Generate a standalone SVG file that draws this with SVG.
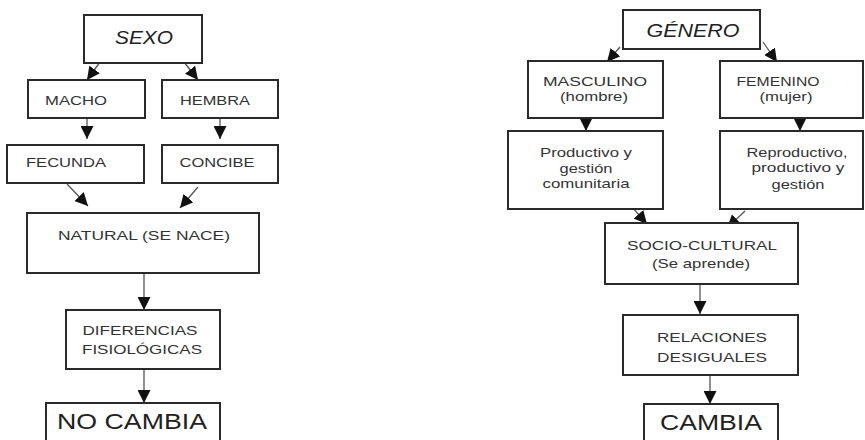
<svg xmlns="http://www.w3.org/2000/svg" width="865" height="440" viewBox="0 0 865 440">
<style>
.box{fill:#fff;stroke:#2a2a2a;stroke-width:2}
.t{font-family:"Liberation Sans",Arial,sans-serif;font-size:13.5px;fill:#333;text-anchor:middle}
.ti{font-style:italic;font-size:19px;fill:#222}
.big{font-size:22px;fill:#222}
.c line{stroke:#555;stroke-width:1.3;marker-end:url(#ah)}
</style>
<defs>
<marker id="ah" markerUnits="userSpaceOnUse" markerWidth="13" markerHeight="13" refX="13" refY="6.5" orient="auto">
<path d="M0,0 L13,6.5 L0,13 z" fill="#111"/>
</marker>
</defs>
<rect width="865" height="440" fill="#fff"/>
<g class="c">
<line x1="100" y1="62" x2="87" y2="80"/>
<line x1="184" y1="62" x2="198" y2="80"/>
<line x1="87" y1="118" x2="87" y2="139"/>
<line x1="220" y1="118" x2="220" y2="139"/>
<line x1="67" y1="184" x2="88" y2="206"/>
<line x1="198" y1="187" x2="180" y2="208"/>
<line x1="144" y1="273" x2="144" y2="310"/>
<line x1="144" y1="369" x2="144" y2="403"/>
<line x1="620" y1="47" x2="607" y2="62"/>
<line x1="763" y1="42" x2="777" y2="62"/>
<line x1="586" y1="118" x2="586" y2="131"/>
<line x1="800" y1="118" x2="800" y2="131"/>
<line x1="632" y1="207" x2="647" y2="224"/>
<line x1="745" y1="211" x2="727" y2="228"/>
<line x1="700" y1="284" x2="700" y2="314"/>
<line x1="710" y1="375" x2="710" y2="404"/>
</g>
<g id="sexo"><rect class="box" x="84" y="15" width="118" height="48"/><text class="t ti" x="144" y="44" textLength="58" lengthAdjust="spacingAndGlyphs">SEXO</text></g>
<g id="macho"><rect class="box" x="28" y="80" width="117" height="38"/><text class="t" x="76" y="105" textLength="62" lengthAdjust="spacingAndGlyphs">MACHO</text></g>
<g id="hembra"><rect class="box" x="162" y="80" width="116" height="38"/><text class="t" x="215" y="105" textLength="70" lengthAdjust="spacingAndGlyphs">HEMBRA</text></g>
<g id="fecunda"><rect class="box" x="7" y="145" width="137" height="38"/><text class="t" x="66" y="167" textLength="80" lengthAdjust="spacingAndGlyphs">FECUNDA</text></g>
<g id="concibe"><rect class="box" x="162" y="145" width="116" height="38"/><text class="t" x="217" y="167" textLength="75" lengthAdjust="spacingAndGlyphs">CONCIBE</text></g>
<g id="natural"><rect class="box" x="27" y="213" width="232" height="60"/><text class="t" x="144" y="240" textLength="172" lengthAdjust="spacingAndGlyphs">NATURAL (SE NACE)</text></g>
<g id="diferencias"><rect class="box" x="66" y="310" width="154" height="59"/><text class="t" x="140" y="335" textLength="115" lengthAdjust="spacingAndGlyphs">DIFERENCIAS</text><text class="t" x="142" y="354" textLength="120" lengthAdjust="spacingAndGlyphs">FISIOLÓGICAS</text></g>
<g id="nocambia"><rect class="box" x="46" y="403" width="174" height="45"/><text class="t big" x="132" y="429" textLength="150" lengthAdjust="spacingAndGlyphs">NO CAMBIA</text></g>
<g id="genero"><rect class="box" x="623" y="10" width="137" height="39"/><text class="t ti" x="693" y="37" textLength="93" lengthAdjust="spacingAndGlyphs">GÉNERO</text></g>
<g id="masculino"><rect class="box" x="528" y="61" width="135" height="57"/><text class="t" x="595" y="86" textLength="104" lengthAdjust="spacingAndGlyphs">MASCULINO</text><text class="t" x="594" y="101" textLength="68" lengthAdjust="spacingAndGlyphs">(hombre)</text></g>
<g id="femenino"><rect class="box" x="720" y="61" width="143" height="57"/><text class="t" x="778" y="86" textLength="83" lengthAdjust="spacingAndGlyphs">FEMENINO</text><text class="t" x="786" y="101" textLength="53" lengthAdjust="spacingAndGlyphs">(mujer)</text></g>
<g id="productivo"><rect class="box" x="508" y="131" width="155" height="78"/><text class="t" x="586" y="157" textLength="92" lengthAdjust="spacingAndGlyphs">Productivo y</text><text class="t" x="586" y="173" textLength="53" lengthAdjust="spacingAndGlyphs">gestión</text><text class="t" x="586" y="188" textLength="87" lengthAdjust="spacingAndGlyphs">comunitaria</text></g>
<g id="reproductivo"><rect class="box" x="720" y="131" width="143" height="78"/><text class="t" x="797" y="157" textLength="101" lengthAdjust="spacingAndGlyphs">Reproductivo,</text><text class="t" x="798" y="172" textLength="93" lengthAdjust="spacingAndGlyphs">productivo y</text><text class="t" x="798" y="189" textLength="53" lengthAdjust="spacingAndGlyphs">gestión</text></g>
<g id="sociocultural"><rect class="box" x="605" y="223" width="193" height="61"/><text class="t" x="702" y="250" textLength="150" lengthAdjust="spacingAndGlyphs">SOCIO-CULTURAL</text><text class="t" x="701" y="268" textLength="98" lengthAdjust="spacingAndGlyphs">(Se aprende)</text></g>
<g id="relaciones"><rect class="box" x="623" y="315" width="175" height="60"/><text class="t" x="712" y="342" textLength="110" lengthAdjust="spacingAndGlyphs">RELACIONES</text><text class="t" x="712" y="362" textLength="110" lengthAdjust="spacingAndGlyphs">DESIGUALES</text></g>
<g id="cambia"><rect class="box" x="644" y="404" width="134" height="45"/><text class="t big" x="711" y="430" textLength="102" lengthAdjust="spacingAndGlyphs">CAMBIA</text></g>
</svg>
